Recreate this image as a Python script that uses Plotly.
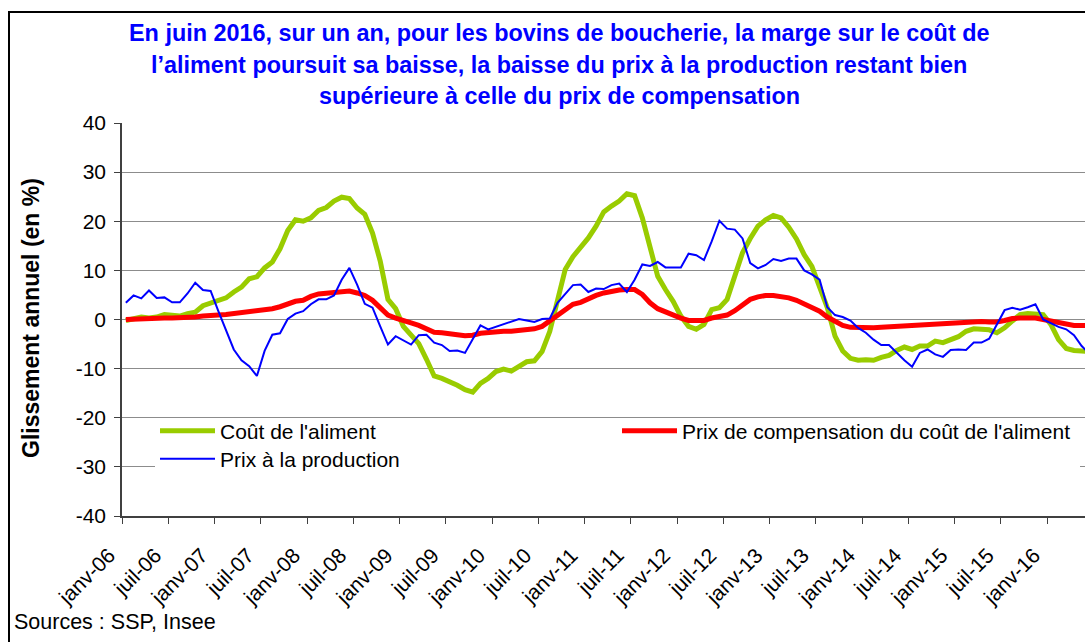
import plotly.graph_objects as go

MONTHS_FR = ["janv", "févr", "mars", "avr", "mai", "juin",
             "juil", "août", "sept", "oct", "nov", "déc"]
months = [f"{m}-{y:02d}" for y in range(6, 17) for m in MONTHS_FR][:126]

tick_labels = ["janv-06", "juil-06", "janv-07", "juil-07", "janv-08", "juil-08",
               "janv-09", "juil-09", "janv-10", "juil-10", "janv-11", "juil-11",
               "janv-12", "juil-12", "janv-13", "juil-13", "janv-14", "juil-14",
               "janv-15", "juil-15", "janv-16"]

y_ticks = [-40, -30, -20, -10, 0, 10, 20, 30, 40]
y_tick_text = ["-40", "-30", "-20", "-10", "0", "10", "20", "30", "40"]

cout_aliment = [
    -0.2, 0.2, 0.5, 0.3, 0.5, 1.0, 0.9, 0.7, 1.2, 1.5,
    2.8, 3.4, 3.9, 4.4, 5.6, 6.6, 8.3, 8.7, 10.5, 11.7,
    14.4, 18.1, 20.3, 20.0, 20.7, 22.2, 22.8, 24.1, 24.9, 24.6,
    22.7, 21.4, 17.6, 11.9, 4.1, 2.2, -1.4, -3.3, -4.9, -8.1,
    -11.5, -12.0, -12.6, -13.4, -14.3, -14.8, -13.0, -12.0, -10.6, -10.1,
    -10.5, -9.4, -8.6, -8.4, -6.5, -2.4, 4.4, 10.2, 12.8, 14.6,
    16.6, 19.0, 21.9, 23.1, 24.1, 25.6, 25.2, 20.7, 14.6, 8.8,
    6.1, 3.7, 0.7, -1.4, -2.0, -1.0, 2.0, 2.4, 4.1, 8.8,
    13.6, 16.5, 19.0, 20.3, 21.2, 20.7, 18.8, 16.4, 13.2, 10.8,
    6.8, 2.4, -3.4, -6.4, -7.9, -8.3, -8.2, -8.3, -7.7, -7.3,
    -6.3, -5.6, -6.1, -5.4, -5.4, -4.4, -4.7, -4.2, -3.5, -2.4,
    -1.9, -2.0, -2.1, -2.7, -1.7, -0.3, 1.0, 1.2, 1.2, 1.0,
    -1.0, -4.1, -5.9, -6.3, -6.4, -6.5,
]

prix_compensation = [
    0.0, 0.1, 0.2, 0.1, 0.2, 0.3, 0.3, 0.3, 0.4, 0.5,
    0.7, 0.7, 0.9, 1.0, 1.2, 1.4, 1.6, 1.7, 2.0, 2.2,
    2.6, 3.2, 3.7, 3.9, 4.7, 5.2, 5.4, 5.6, 5.8, 5.8,
    5.4, 4.9, 3.9, 2.4, 0.9, 0.3, -0.3, -0.7, -1.2, -1.9,
    -2.6, -2.7, -2.8, -3.1, -3.3, -3.2, -2.8, -2.6, -2.4, -2.4,
    -2.4, -2.2, -2.0, -1.9, -1.4, -0.3, 1.0, 2.2, 3.1, 3.5,
    4.3, 4.9, 5.4, 5.8, 6.0, 6.1, 6.1, 5.1, 3.4, 2.2,
    1.5, 0.9, 0.3, -0.2, -0.3, -0.2, 0.3, 0.5, 0.9, 1.8,
    3.1, 4.1, 4.6, 4.9, 4.9, 4.7, 4.4, 3.9, 3.1, 2.5,
    1.7, 0.5, -0.5, -1.2, -1.6, -1.7, -1.7, -1.7, -1.6, -1.5,
    -1.4, -1.2, -1.2, -1.2, -1.0, -0.9, -0.9, -0.8, -0.7, -0.5,
    -0.4, -0.4, -0.5, -0.5, -0.2, 0.2, 0.3, 0.3, 0.3, 0.0,
    -0.3, -0.7, -1.0, -1.2, -1.2, -1.3,
]

prix_production = [
    3.4, 4.9, 4.3, 5.9, 4.4, 4.5, 3.5, 3.5, 5.3, 7.5,
    6.0, 5.8, 1.7, -2.4, -6.1, -8.3, -9.5, -11.5, -6.4, -3.1,
    -2.8, 0.1, 1.2, 1.7, 3.1, 4.1, 4.1, 4.9, 8.1, 10.5,
    7.1, 3.2, 2.4, -1.4, -5.1, -3.4, -4.2, -5.1, -3.2, -3.1,
    -4.7, -5.2, -6.4, -6.3, -6.8, -4.1, -1.2, -2.0, -1.5, -1.0,
    -0.5, 0.1, -0.2, -0.5, 0.1, 0.2, 3.4, 5.1, 7.0, 7.1,
    5.6, 6.3, 6.2, 7.0, 7.3, 5.6, 8.1, 11.2, 10.9, 11.7,
    10.6, 10.6, 10.6, 13.4, 13.1, 12.1, 15.9, 20.1, 18.5, 18.3,
    16.5, 11.5, 10.4, 11.1, 12.3, 11.9, 12.4, 12.4, 10.0, 9.2,
    8.1, 2.5, 0.9, 0.5, -0.2, -1.7, -2.7, -4.1, -5.2, -5.2,
    -6.8, -8.3, -9.6, -6.8, -6.1, -7.1, -7.6, -6.2, -6.1, -6.2,
    -4.7, -4.7, -3.9, -1.0, 1.9, 2.4, 2.0, 2.5, 3.1, 0.0,
    -0.8, -1.5, -2.0, -3.2, -5.4, -7.0,
]

title_lines = [
    "En juin 2016, sur un an, pour les bovins de boucherie, la marge sur le coût de",
    "l’aliment poursuit sa baisse, la baisse du prix à la production restant bien",
    "supérieure à celle du prix de compensation",
]

FONT = "Liberation Sans, Arial, sans-serif"
W, H = 1085, 642
ML, MR, MT, MB = 122, 0, 123, 126
PW, PH = W - ML - MR, H - MT - MB


def px(x):
    return (x - ML) / PW


def py(y):
    return (H - MB - y) / PH


x_idx = list(range(len(months)))

fig = go.Figure()
fig.add_trace(go.Scatter(x=x_idx, y=cout_aliment, mode="lines",
                         name="Coût de l'aliment", legend="legend2",
                         line=dict(color="#99CC00", width=5)))
fig.add_trace(go.Scatter(x=x_idx, y=prix_compensation, mode="lines",
                         name="Prix de compensation du coût de l'aliment",
                         legend="legend2",
                         line=dict(color="#FF0000", width=5)))
fig.add_trace(go.Scatter(x=x_idx, y=prix_production, mode="lines",
                         name="Prix à la production", legend="legend",
                         line=dict(color="#0000FF", width=2)))

tickvals = [months.index(t) - 0.5 for t in tick_labels]

legend_common = dict(
    orientation="h", xanchor="left", yanchor="middle",
    borderwidth=0, itemwidth=55,
    font=dict(family=FONT, size=21, color="black"), traceorder="normal",
)

fig.update_layout(
    width=W, height=H,
    margin=dict(l=ML, r=MR, t=MT, b=MB, pad=0),
    paper_bgcolor="white", plot_bgcolor="white",
    font=dict(family=FONT, size=21, color="black"),
    showlegend=True,
    # second row (drawn first, white box hides the -20 gridline)
    legend=dict(x=px(155), y=py(459), bgcolor="white",
                entrywidth=855, **legend_common),
    # first row (drawn on top, transparent)
    legend2=dict(x=px(155), y=py(431), bgcolor="rgba(0,0,0,0)",
                 entrywidth=392, **legend_common),
    xaxis=dict(
        range=[-0.5, 124.43], tickmode="array", tickvals=tickvals,
        ticktext=tick_labels, tickangle=-45, ticks="outside", ticklen=6,
        tickcolor="#404040", showline=True, linecolor="#404040", linewidth=1.5,
        showgrid=False, zeroline=False, ticklabelshift=-13,
        ticklabelstandoff=11,
        tickfont=dict(family=FONT, size=21, color="black"),
    ),
    yaxis=dict(
        range=[-40, 40], tickmode="array", tickvals=y_ticks,
        ticktext=y_tick_text, ticks="outside", ticklen=6,
        tickcolor="#404040", showline=True, linecolor="#404040", linewidth=1.5,
        showgrid=True, gridcolor="#8C8C8C", gridwidth=1, zeroline=False,
        tickfont=dict(family=FONT, size=21, color="black"),
        ticklabelstandoff=4,
    ),
)

annotations = []
for txt, yc in zip(title_lines, [33, 65, 96]):
    annotations.append(dict(
        text=f"<b>{txt}</b>", xref="paper", yref="paper", x=px(559), y=py(yc),
        xanchor="center", yanchor="middle", showarrow=False,
        font=dict(family=FONT, size=23.4, color="#0000FF")))
annotations.append(dict(
    text="<b>Glissement annuel (en %)</b>", xref="paper", yref="paper",
    x=px(31), y=py(318), xanchor="center", yanchor="middle", textangle=-90,
    showarrow=False, font=dict(family=FONT, size=23, color="black")))
annotations.append(dict(
    text="Sources : SSP, Insee", xref="paper", yref="paper",
    x=px(12), y=py(622), xanchor="left", yanchor="middle", showarrow=False,
    font=dict(family=FONT, size=21.5, color="black")))
fig.update_layout(annotations=annotations)

fig.add_shape(type="rect", xref="paper", yref="paper",
              x0=px(9), y0=py(660), x1=px(1100), y1=py(12),
              line=dict(color="black", width=2), fillcolor="rgba(0,0,0,0)",
              layer="above")

fig.write_html("out.html",
               config={"displayModeBar": False},
               post_script="document.body.style.margin='0';")
